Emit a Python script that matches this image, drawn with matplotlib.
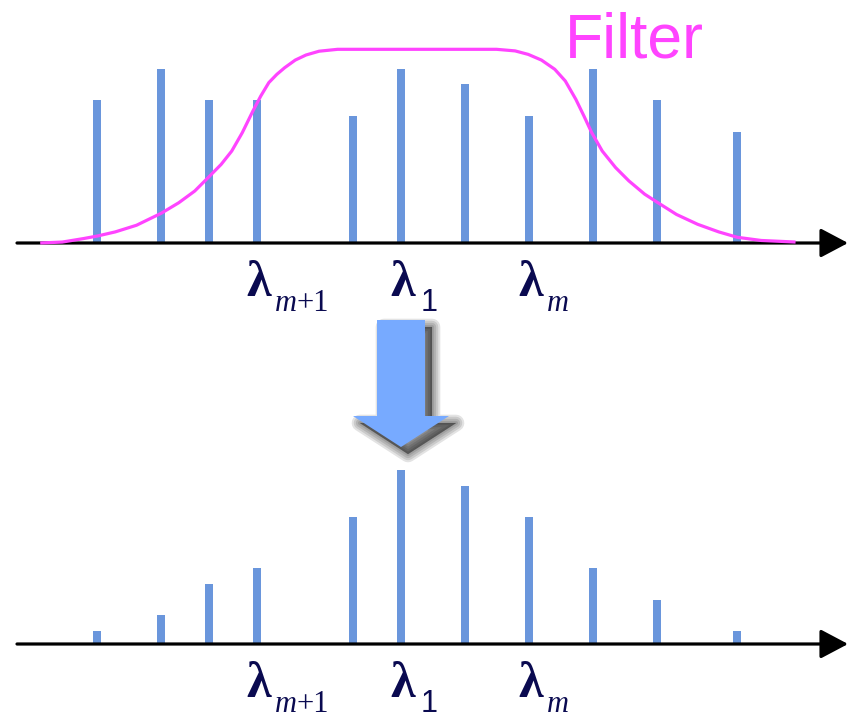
import matplotlib
matplotlib.use("Agg")
import matplotlib.pyplot as plt
from matplotlib.patches import Polygon

# wavelength positions of the spectral lines and their intensities
xs = [6, 10, 13, 16, 22, 25, 29, 33, 37, 41, 46]
before = [4.5, 5.5, 4.5, 4.5, 4.0, 5.5, 5.0, 4.0, 5.5, 4.5, 3.5]
after = [0.4, 0.9, 1.9, 2.4, 4.0, 5.5, 5.0, 4.0, 2.4, 1.4, 0.4]

# filter response, sampled along the curve
filt_x = [2.45, 3.83, 5.16, 6.02, 7.14, 8.47, 10.02, 11.11, 12.11, 13.0, 13.76,
          14.42, 15.08, 15.74, 16.24, 16.74, 17.24, 17.73, 18.39, 19.06, 19.88,
          21.04, 30.97, 32.13, 32.95, 33.78, 34.61, 35.27, 35.93, 36.43, 36.92,
          37.58, 38.41, 39.24, 40.23, 41.06, 42.22, 43.54, 44.86, 46.02, 47.51,
          49.66]
filt_y = [0.0, 0.03, 0.14, 0.22, 0.35, 0.56, 0.94, 1.27, 1.64, 2.09, 2.48,
          2.90, 3.48, 4.16, 4.64, 5.06, 5.32, 5.53, 5.77, 5.93, 6.05,
          6.11, 6.11, 6.06, 5.95, 5.77, 5.48, 5.11, 4.53, 4.01, 3.48,
          2.90, 2.38, 1.96, 1.54, 1.27, 0.90, 0.59, 0.35, 0.18, 0.08,
          0.03]

# labelled lines: (index into xs, italic part, upright part, font of upright part)
labels = [(3, "m", "+1", "Liberation Serif"),
          (5, "", "1", "Liberation Sans"),
          (7, "m", "", "Liberation Serif")]

bar_color = "#6a96dc"
pink = "#ff44ff"
navy = "#0a0a50"

fig = plt.figure(figsize=(8.5, 7.16), dpi=100)
h = 316 / 716
ax_top = fig.add_axes([0, 1 - h, 1, h])
ax_bot = fig.add_axes([0, 0, 1, h])


def draw_panel(ax, values, ylim):
    ax.set_xlim(-0.0625, 53.0625)
    ax.set_ylim(*ylim)
    ax.axis("off")
    ax.bar(xs, values, width=0.5, color=bar_color, zorder=2)
    ax.annotate("", xy=(52.94, 0), xytext=(1.0, 0),
                arrowprops=dict(arrowstyle="-|>,head_length=17,head_width=9",
                                mutation_scale=1, lw=2.3, color="black",
                                shrinkA=0, shrinkB=0), zorder=3)
    for i, ital, upright, font in labels:
        ax.annotate("λ", xy=(xs[i], 0), xytext=(-11, -53),
                    textcoords="offset pixels", ha="left", va="baseline",
                    fontsize=36, fontweight="bold", family="Liberation Serif",
                    color=navy)
        if ital:
            ax.annotate(ital, xy=(xs[i], 0), xytext=(18, -68),
                        textcoords="offset pixels", ha="left", va="baseline",
                        fontsize=22, style="italic", family="Liberation Serif",
                        color=navy)
        if upright:
            dx = 40 if ital else 20
            ax.annotate(upright, xy=(xs[i], 0), xytext=(dx, -68),
                        textcoords="offset pixels", ha="left", va="baseline",
                        fontsize=22, family=font, color=navy)


draw_panel(ax_top, before, (-73 / 31.7, 243 / 31.7))
draw_panel(ax_bot, after, (-72 / 31.7, 244 / 31.7))

ax_top.plot(filt_x, filt_y, color=pink, lw=2.3, solid_joinstyle="round",
            solid_capstyle="butt", zorder=4)

# overlay in pixel coordinates for the title word and the block arrow
ov = fig.add_axes([0, 0, 1, 1], zorder=5)
ov.set_xlim(0, 850)
ov.set_ylim(716, 0)
ov.axis("off")
ov.patch.set_visible(False)

ov.text(565, 58, "Filter", fontsize=45, family="Liberation Sans", color=pink,
        ha="left", va="baseline")

arrow = [(377, 320), (425, 320), (425, 416), (449, 416), (401, 447),
         (353, 416), (377, 416)]
# soft drop shadow: stacked translucent copies with growing round strokes
shadow = [(x + 7, y + 7) for x, y in arrow]
for lw in [12, 9, 6, 3, 0.5]:
    ov.add_patch(Polygon(shadow, closed=True, facecolor="black",
                         edgecolor="black", lw=lw, alpha=0.11,
                         joinstyle="round"))
ov.add_patch(Polygon(arrow, closed=True, facecolor="#77aaff", edgecolor="none"))

fig.savefig("out.png", dpi=100)
